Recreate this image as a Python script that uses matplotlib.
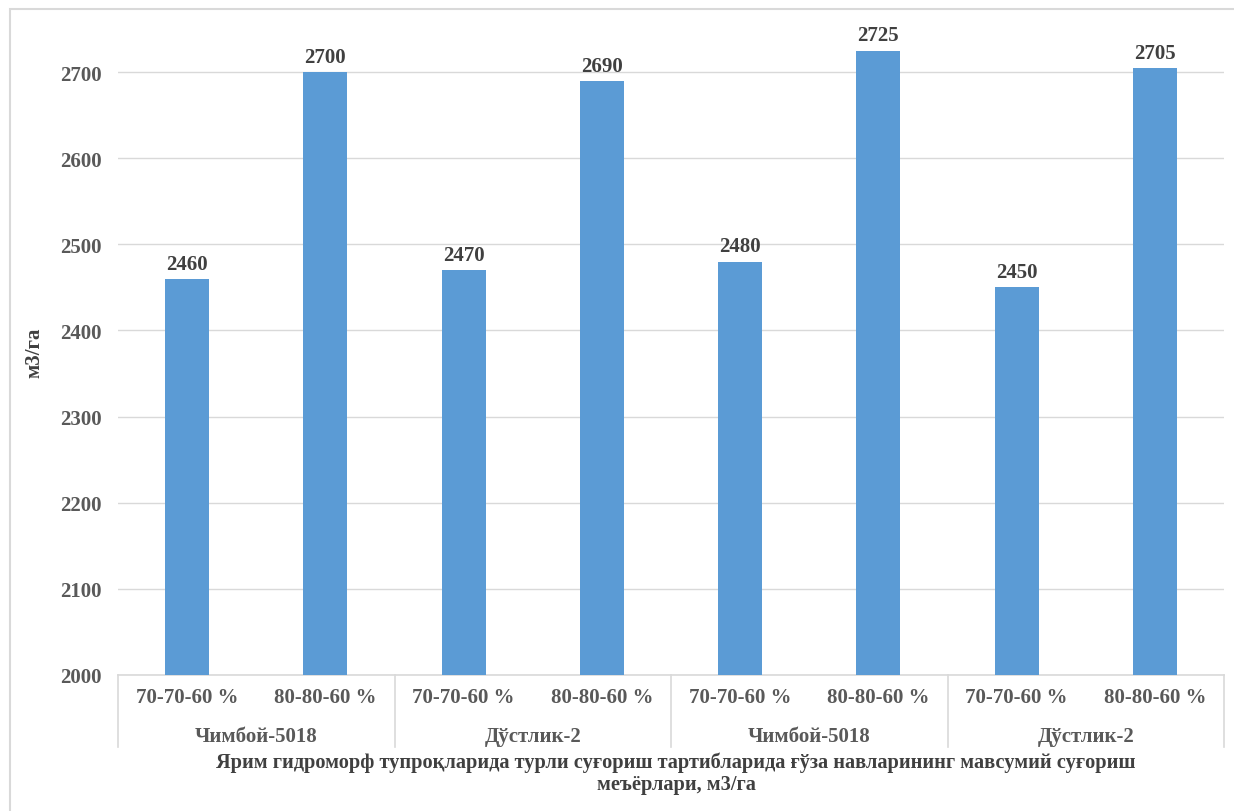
import matplotlib.pyplot as plt
from matplotlib.patches import Rectangle

# Chart data
regimes = ["70-70-60 %", "80-80-60 %"] * 4
varieties = ["Чимбой-5018", "Дўстлик-2", "Чимбой-5018", "Дўстлик-2"]
values = [2460, 2700, 2470, 2690, 2480, 2725, 2450, 2705]
yticks = [2000, 2100, 2200, 2300, 2400, 2500, 2600, 2700]
title = ("Ярим гидроморф тупроқларида турли суғориш тартибларида ғўза навларининг мавсумий суғориш\n"
         "меъёрлари, м3/га")
ylabel = "м3/га"

plt.rcParams['font.family'] = ['Liberation Serif', 'DejaVu Serif']
plt.rcParams['font.weight'] = 'bold'
FS = 15

W, H = 1234, 812
fig = plt.figure(figsize=(W / 100, H / 100), dpi=100)

# chart area border
fig.patches.append(Rectangle((10 / W, -0.1), 1.2, (H - 10) / H + 0.1, transform=fig.transFigure,
                             fill=False, edgecolor='#D9D9D9', linewidth=1.5))

left, right, top, bottom = 118, 1224, 30, 676
ax = fig.add_axes([left / W, 1 - bottom / H, (right - left) / W, (bottom - top) / H])

x = list(range(len(values)))
ax.bar(x, values, width=0.32, color='#5B9BD5', zorder=3)
for xi, v in zip(x, values):
    ax.text(xi, v + 6, str(v), ha='center', va='bottom', fontsize=FS, fontweight='bold', color='#404040')

ax.set_xlim(-0.5, len(values) - 0.5)
ax.set_ylim(2000, 2750)
ax.set_yticks(yticks)
ax.set_yticklabels([str(t) for t in yticks], fontsize=FS, fontweight='bold', color='#595959')
ax.tick_params(axis='y', length=0, pad=12)
ax.grid(axis='y', color='#D9D9D9', linewidth=1, zorder=0)
ax.set_axisbelow(True)
for s in ['left', 'right', 'top']:
    ax.spines[s].set_visible(False)
ax.spines['bottom'].set_color('#D9D9D9')
ax.spines['bottom'].set_linewidth(1.2)

# multi-level category axis
ax.set_xticks(x)
ax.set_xticklabels(regimes, fontsize=FS, fontweight='bold', color='#595959')
ax.tick_params(axis='x', length=0, pad=9)
trans = ax.get_xaxis_transform()
for i, name in enumerate(varieties):
    ax.text(2 * i + 0.5, -0.094, name, transform=trans, ha='center', va='center',
            fontsize=FS, fontweight='bold', color='#595959')
for b in range(len(varieties) + 1):
    ax.plot([2 * b - 0.5] * 2, [0, -0.112], transform=trans, color='#D9D9D9',
            linewidth=1.2, clip_on=False)

ax.set_ylabel(ylabel, fontsize=FS, fontweight='bold', color='#404040')
ax.yaxis.set_label_coords(-(left - 44) / (right - left), 0.5)

fig.text(676 / W, 1 - 774 / H, title, ha='center', va='center',
         fontsize=14.7, fontweight='bold', color='#404040', linespacing=1.1)

fig.savefig("out.png", dpi=100)
